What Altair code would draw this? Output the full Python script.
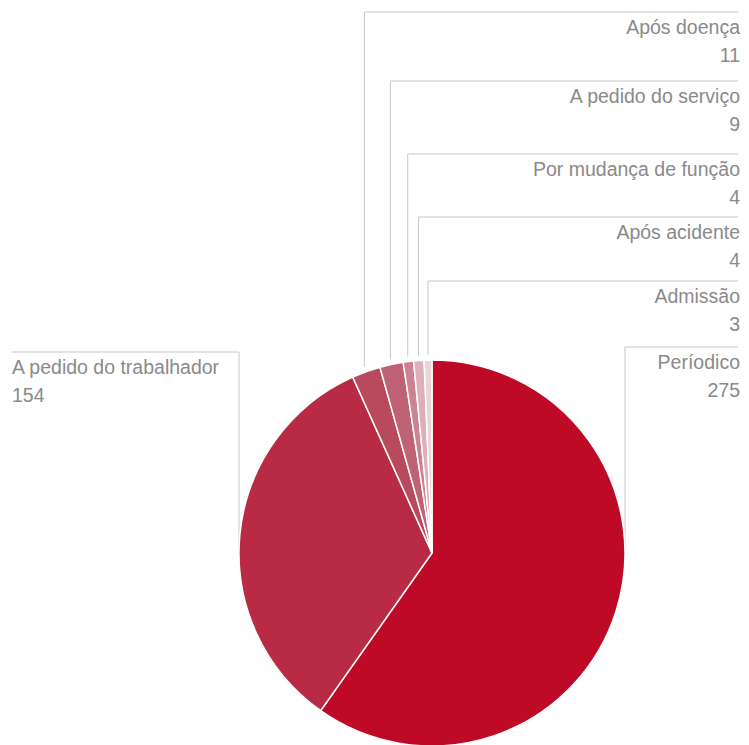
import math
import altair as alt
import pandas as pd

# ---- data ----
categories = ["Períodico", "A pedido do trabalhador", "Após doença",
              "A pedido do serviço", "Por mudança de função", "Após acidente", "Admissão"]
values = [275, 154, 11, 9, 4, 4, 3]
colors = ["#BE0A27", "#B92A45", "#B94A5E", "#BF6276", "#CB8293", "#DEAEBA", "#EBD4D9"]

# ---- layout (page pixels) ----
CX, CY, R = 432, 553, 193
label_line_y = [347, 352, 12, 81, 154, 217, 281]
label_side = ["right", "left", "right", "right", "right", "right", "right"]
RIGHT_TEXT_X, RIGHT_LINE_X, LEFT_X = 740, 738, 12
W, H = 733, 737
FONT = "Liberation Sans"
FS = 19.5
TEXT_COLOR = "#8A8A8A"
LINE_COLOR = "#C8C8C8"

total = sum(values)
rows = []
cum = 0
for i, (c, v) in enumerate(zip(categories, values)):
    mid = (cum + v / 2) / total * 2 * math.pi
    cum += v
    if v / total > 0.2:
        ax = CX + R * (1 if math.sin(mid) > 0 else -1)
        ay = CY
    else:
        ax = CX + (R + 5) * math.sin(mid)
        ay = CY - (R + 5) * math.cos(mid)
    side = label_side[i]
    ly = label_line_y[i]
    rows.append(dict(
        cat=c, val=v, order=i, ax=ax, ay=ay, ly=ly, side=side,
        lx2=RIGHT_LINE_X if side == "right" else LEFT_X,
        tx=RIGHT_TEXT_X if side == "right" else LEFT_X,
        t1=ly + 22, t2=ly + 50, vtxt=str(v),
    ))
df = pd.DataFrame(rows)

xs = alt.Scale(domain=[8, 8 + W], nice=False, zero=False)
ys = alt.Scale(domain=[8, 8 + H], nice=False, zero=False, reverse=True)

base = alt.Chart(df)

pie = base.mark_arc(radius=R, stroke="white", strokeWidth=1.5).encode(
    theta=alt.Theta("val:Q", stack=True),
    order=alt.Order("order:Q"),
    color=alt.Color("cat:N", scale=alt.Scale(domain=categories, range=colors), legend=None),
    x=alt.value(CX - 8), y=alt.value(CY - 8),
)

hline = base.mark_rule(color=LINE_COLOR, strokeWidth=1).encode(
    x=alt.X("ax:Q", scale=xs, axis=None), x2="lx2:Q",
    y=alt.Y("ly:Q", scale=ys, axis=None),
)
vline = base.mark_rule(color=LINE_COLOR, strokeWidth=1).encode(
    x=alt.X("ax:Q", scale=xs, axis=None),
    y=alt.Y("ly:Q", scale=ys, axis=None), y2="ay:Q",
)

def texts(side, align):
    b = base.transform_filter(alt.datum.side == side)
    name = b.mark_text(align=align, baseline="alphabetic", font=FONT, fontSize=FS,
                       color=TEXT_COLOR).encode(
        x=alt.X("tx:Q", scale=xs, axis=None), y=alt.Y("t1:Q", scale=ys, axis=None),
        text="cat:N")
    val = b.mark_text(align=align, baseline="alphabetic", font=FONT, fontSize=FS,
                      color=TEXT_COLOR).encode(
        x=alt.X("tx:Q", scale=xs, axis=None), y=alt.Y("t2:Q", scale=ys, axis=None),
        text="vtxt:N")
    return name + val

chart = alt.layer(hline, vline, pie, texts("right", "right"), texts("left", "left")).properties(
    width=W, height=H, padding=0, autosize=alt.AutoSizeParams(type="none"),
    background="white",
).configure_view(stroke=None)

chart.save("out.html", embed_options={"renderer": "svg", "actions": False})
